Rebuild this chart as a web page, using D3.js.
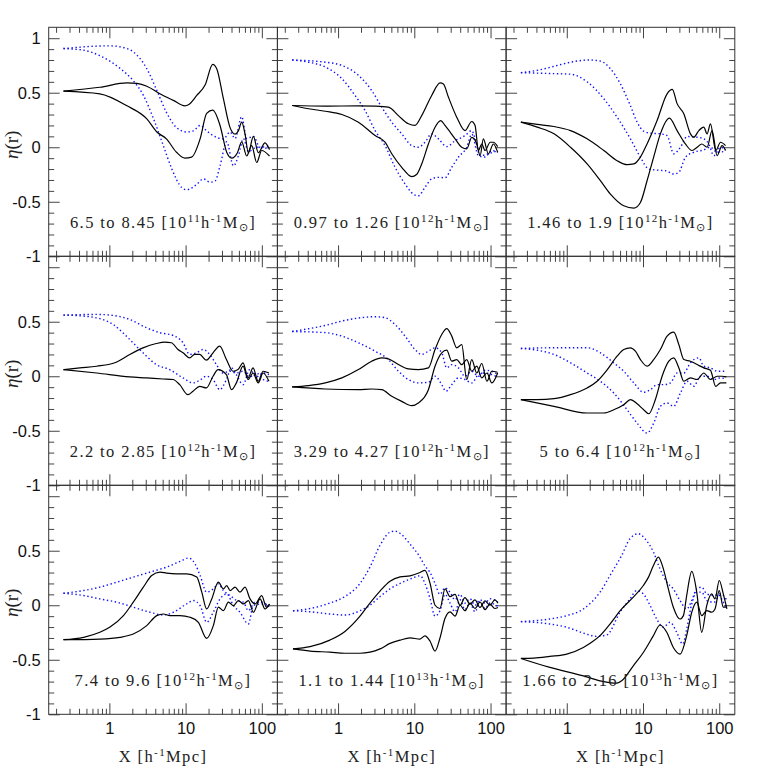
<!DOCTYPE html>
<html>
<head>
<meta charset="utf-8">
<script src="https://cdn.jsdelivr.net/npm/d3@7"></script>
<style>
  body { margin: 0; background: #fff; }
  .serif { font-family: "Liberation Serif", serif; fill: #222; }
  .sans { font-family: "Liberation Sans", Arial, sans-serif; }
</style>
</head>
<body>
<div id="chart"></div>
<script>
// mass bins of the nine panels
const massLow = ["6.5", "0.97", "1.46", "2.2", "3.29", "5", "7.4", "1.1", "1.66"];
const massHigh = ["8.45", "1.26", "1.9", "2.85", "4.27", "6.4", "9.6", "1.44", "2.16"];
const massExp = ["11", "12", "12", "12", "12", "12", "12", "13", "13"];

const xTickLabels = [1, 10, 100];
const yTickLabelsTop = [-1, -0.5, 0, 0.5, 1];
const yTickLabels = [-1, -0.5, 0, 0.5];

// eta(r) curves as [r, eta] pairs, one list per panel
const solidA = [
  [[0.25,0.515],[0.75,0.55],[1.7,0.59],[2.3,0.585],[3.1,0.56],[4.6,0.49],[6.9,0.43],[9.8,0.38],[10.9,0.39],[14,0.475],[18,0.57],[22.7,0.76],[25.6,0.72],[31.3,0.445],[38.3,0.18],[44.5,0.12],[49.2,0.15],[54.5,0.23],[60.2,0.12],[66.6,-0.05],[77.4,0.1],[90,-0.05],[110,0.04],[126,-0.02]],
  [[0.25,0.383],[0.68,0.377],[1.85,0.38],[3.06,0.377],[4.57,0.368],[6.18,0.29],[8.37,0.215],[10.2,0.2],[12.5,0.29],[16.9,0.475],[21.8,0.59],[24.1,0.58],[28,0.46],[36,0.276],[46.3,0.153],[56.7,0.236],[62.7,0.2],[69.3,-0.03],[76.7,0.03],[84.8,-0.03],[99,0.046],[109,0.046],[124,0.006]],
  [[0.25,0.23],[0.41,0.21],[0.68,0.19],[1.12,0.153],[1.85,0.077],[3.06,-0.03],[4.57,-0.123],[6.18,-0.16],[7.57,-0.153],[9.25,-0.09],[11.3,0.03],[15.3,0.245],[20.7,0.49],[24.2,0.53],[28,0.4],[34.3,0.307],[41.9,0.123],[46.3,0.092],[54,0.153],[62.7,0.184],[69.3,0.123],[76.7,0.215],[90,-0.03],[104,0.046],[121,0.015]],
  [[0.25,0.061],[0.41,0.077],[0.68,0.092],[1.23,0.129],[1.85,0.2],[2.76,0.26],[4.13,0.3],[5.3,0.313],[6.5,0.307],[7.95,0.245],[9.25,0.215],[11.3,0.169],[13.1,0.2],[15.3,0.2],[18.7,0.147],[22.9,0.215],[28,0.276],[34.3,0.153],[41.9,0.046],[48.7,0.061],[56.7,0.123],[66,-0.015],[76.7,0.077],[89.7,-0.046],[104,0.046],[124,0.03]],
  [[0.25,-0.098],[0.41,-0.086],[0.68,-0.061],[1.12,-0.015],[1.85,0.061],[2.76,0.138],[3.74,0.169],[4.57,0.16],[6.18,0.107],[8.37,0.067],[11.3,0.061],[15.3,0.077],[18.7,0.245],[22.9,0.383],[26.6,0.436],[31,0.368],[36,0.261],[41.9,0.29],[48.7,-0.03],[56.7,0.153],[66,0.03],[76.7,0.117],[89.7,-0.046],[104,0.046],[124,0.037]],
  [[0.25,-0.215],[0.41,-0.215],[0.68,-0.206],[1.12,-0.169],[1.85,-0.107],[2.5,-0.046],[3.4,0.061],[4.57,0.184],[5.59,0.245],[6.84,0.261],[7.95,0.23],[9.25,0.153],[11.3,0.092],[13.8,0.153],[16.9,0.245],[20.7,0.368],[25.3,0.405],[29.5,0.291],[34.3,0.153],[41.9,0.138],[51.3,0.107],[62.7,0.077],[76.7,0.055],[89.7,-0.092],[104,-0.061],[124,-0.061]],
  [[0.25,-0.316],[0.46,-0.294],[0.75,-0.248],[1.02,-0.2],[1.53,-0.095],[2.06,0.028],[2.79,0.166],[3.59,0.273],[4.62,0.304],[5.65,0.294],[7.64,0.288],[10.3,0.288],[14,0.258],[16.3,0.12],[18.9,-0.034],[22,0.058],[26.9,0.212],[31.3,0.15],[34.6,0.18],[38.3,0.135],[44.5,0.166],[51.7,0.12],[60.2,0.166],[70,0.058],[81.4,0.012],[99.6,0.089],[115,-0.018],[126,0.012]],
  [[0.256,-0.4],[0.43,-0.38],[0.78,-0.32],[1.23,-0.24],[1.94,-0.1],[2.62,0.02],[3.55,0.13],[4.8,0.22],[6.5,0.26],[8.8,0.27],[11.9,0.3],[13.8,0.32],[16.1,0.2],[18.7,0.0],[21.7,-0.03],[25.3,0.15],[29.4,0.08],[34.2,0.1],[39.8,0.0],[46.2,0.07],[53.8,0.01],[62.5,0.05],[72.7,-0.02],[84.6,0.04],[98.4,0.0],[114,0.05],[125,0.02]],
  [[0.25,-0.488],[0.37,-0.485],[0.6,-0.469],[1.0,-0.448],[1.65,-0.387],[2.12,-0.34],[2.73,-0.279],[3.69,-0.172],[5.25,-0.034],[7.46,0.074],[10.1,0.181],[11.8,0.258],[13.7,0.365],[15.9,0.442],[18.5,0.334],[21.5,0.15],[25,-0.018],[30.6,-0.126],[33.9,-0.095],[37.4,0.089],[43.6,0.31],[50.7,0.12],[58.9,-0.248],[68.5,-0.003],[79.7,0.104],[88.1,0.058],[100,0.227],[113,0.104],[126,-0.034]]
];

const solidB = [
  [[0.25,0.515],[0.75,0.49],[1.7,0.38],[3.1,0.26],[4.2,0.14],[5.6,0.077],[7.6,-0.046],[9.8,-0.1],[12,-0.09],[15.5,0.077],[18.9,0.31],[22.7,0.34],[28.3,0.2],[34.6,-0.046],[40.3,-0.1],[47.8,-0.05],[54.5,0.05],[63.3,-0.08],[73.6,0.015],[85.6,-0.14],[99.6,-0.03],[126,-0.08]],
  [[0.25,0.383],[0.41,0.353],[0.68,0.33],[1.12,0.3],[1.85,0.23],[3.06,0.107],[4.13,0.046],[5.06,-0.06],[6.84,-0.184],[9.25,-0.27],[10.7,-0.25],[12.5,-0.153],[15.3,0.03],[18.7,0.184],[22.2,0.245],[25.3,0.2],[34.3,0.077],[41.9,0.0],[48.7,-0.015],[56.7,0.09],[66,0.03],[73,-0.077],[80.5,0.077],[93.7,-0.06],[109,0.03],[124,-0.046]],
  [[0.25,0.23],[0.41,0.184],[0.68,0.123],[1.12,0.0],[1.85,-0.153],[2.76,-0.307],[3.74,-0.43],[5.59,-0.537],[7.57,-0.558],[9.25,-0.506],[11.3,-0.307],[13.8,-0.09],[16.9,0.123],[22.2,0.267],[28,0.153],[36,0.03],[44,-0.03],[51.3,0.0],[59,0.03],[69.3,0.0],[80.5,0.153],[93.7,-0.077],[109,0.015],[121,-0.03]],
  [[0.25,0.061],[0.68,0.03],[1.85,-0.006],[3.06,-0.015],[5.06,-0.025],[6.84,-0.03],[8.37,-0.077],[10.7,-0.169],[12.5,-0.138],[15.3,-0.092],[18.7,-0.107],[22.9,0.0],[26.6,0.061],[34.3,0.015],[40,-0.123],[46.3,-0.061],[56.7,0.092],[66,-0.03],[76.7,0.03],[89.7,-0.061],[104,0.03],[124,-0.046]],
  [[0.25,-0.098],[0.68,-0.117],[1.85,-0.123],[2.76,-0.117],[3.74,-0.123],[5.06,-0.184],[6.84,-0.23],[9.25,-0.27],[11.3,-0.245],[15.3,-0.123],[18.7,0.092],[22.9,0.215],[26.6,0.239],[31,0.138],[36,0.153],[41.9,0.107],[48.7,0.153],[56.7,0.046],[66,0.092],[76.7,-0.015],[89.7,0.03],[104,-0.061],[124,0.03]],
  [[0.25,-0.215],[0.68,-0.276],[1.85,-0.337],[3.06,-0.337],[4.13,-0.307],[5.59,-0.261],[6.84,-0.215],[8.37,-0.252],[10.2,-0.307],[11.9,-0.344],[14.5,-0.215],[17.8,0.0],[21.8,0.138],[25.3,0.169],[29.5,0.077],[34.3,-0.046],[41.9,-0.015],[51.3,-0.03],[62.7,0.03],[76.7,-0.03],[93.7,0.0],[109,0.0],[124,-0.006]],
  [[0.25,-0.316],[0.75,-0.31],[1.38,-0.294],[2.06,-0.264],[3.09,-0.187],[4.18,-0.095],[5.11,-0.08],[6.22,-0.095],[8.44,-0.095],[11.4,-0.11],[14.7,-0.156],[18.9,-0.304],[23.1,-0.187],[26.9,-0.018],[31.3,-0.049],[36.4,0.028],[42.4,-0.003],[49.2,0.043],[57.3,0.012],[66.6,0.043],[77.4,-0.064],[94.7,0.058],[110,-0.034],[126,0.012]],
  [[0.256,-0.4],[0.43,-0.42],[0.78,-0.43],[1.23,-0.44],[1.94,-0.44],[2.62,-0.43],[3.55,-0.4],[4.8,-0.35],[6.5,-0.32],[8.8,-0.3],[11.9,-0.31],[13.8,-0.28],[16.1,-0.33],[18.7,-0.42],[21.7,-0.3],[25.3,-0.12],[29.4,-0.06],[34.2,-0.1],[39.8,0.0],[46.2,-0.05],[53.8,0.02],[62.5,-0.03],[72.7,0.03],[84.6,-0.04],[98.4,0.01],[114,-0.03],[125,-0.02]],
  [[0.25,-0.488],[0.6,-0.57],[1.65,-0.647],[2.73,-0.693],[4.51,-0.715],[5.25,-0.693],[7.46,-0.555],[10.1,-0.433],[13.7,-0.279],[16.7,-0.181],[20.5,-0.248],[25,-0.387],[30.6,-0.448],[37.4,-0.279],[43.6,-0.064],[50.7,0.028],[58.9,-0.095],[68.5,-0.049],[79.7,-0.064],[88.1,-0.034],[100,0.135],[113,-0.018],[126,-0.018]]
];

const dottedA = [
  [[0.25,0.905],[1.0,0.93],[1.4,0.92],[2.06,0.875],[3.1,0.72],[4.2,0.52],[5.6,0.32],[7.6,0.18],[10.3,0.14],[12.6,0.15],[15.5,0.2],[18.9,0.15],[25.6,0.09],[31.3,0.077],[38.3,0.14],[44.5,0.08],[54.5,0.28],[63.3,0.08],[77.4,0.1],[94.7,0.0],[126,0.015]],
  [[0.25,0.8],[0.68,0.78],[1.12,0.75],[1.85,0.66],[2.76,0.52],[3.74,0.368],[5.06,0.23],[6.84,0.123],[9.25,0.015],[11.3,0.0],[13.8,0.046],[16.9,0.123],[20.7,0.077],[26.6,0.006],[34.3,0.06],[46.3,0.107],[56.7,0.153],[62.7,0.08],[73,-0.077],[93.7,-0.06],[124,-0.03]],
  [[0.25,0.684],[0.41,0.705],[0.68,0.742],[1.12,0.78],[1.95,0.8],[2.76,0.79],[3.74,0.72],[5.06,0.58],[6.84,0.38],[8.37,0.23],[10.2,0.147],[12.5,0.129],[16.9,0.123],[20.7,0.107],[25.3,-0.06],[31,0.0],[37.9,0.098],[51.3,0.092],[62.7,0.077],[73,0.03],[84.8,-0.077],[104,0.0],[121,-0.025]],
  [[0.25,0.561],[0.68,0.567],[1.12,0.558],[1.85,0.521],[3.06,0.445],[4.57,0.4],[6.84,0.374],[9.25,0.307],[11.3,0.2],[13.8,0.215],[16.9,0.245],[20.7,0.2],[25.3,0.107],[31,0.03],[37.9,0.046],[46.3,0.03],[56.7,0.046],[69.3,-0.006],[84.8,0.03],[104,-0.03],[124,-0.046]],
  [[0.25,0.41],[0.41,0.436],[0.68,0.466],[1.12,0.506],[1.85,0.534],[3.06,0.546],[4.13,0.537],[5.59,0.475],[7.57,0.368],[10.2,0.245],[12.5,0.2],[15.3,0.23],[18.7,0.261],[22.9,0.215],[26.6,0.077],[31,0.107],[37.9,0.077],[46.3,0.0],[56.7,0.046],[69.3,0.0],[84.8,0.055],[104,0.046],[124,0.015]],
  [[0.25,0.255],[0.68,0.261],[1.85,0.261],[2.76,0.215],[4.13,0.123],[5.59,0.046],[7.57,-0.061],[10.2,-0.147],[12.5,-0.123],[15.3,-0.077],[18.7,-0.077],[22.9,-0.061],[28,0.03],[34.3,0.03],[41.9,0.123],[54,0.169],[62.7,0.092],[76.7,0.077],[93.7,0.046],[124,0.046]],
  [[0.25,0.11],[0.46,0.135],[0.75,0.166],[1.25,0.212],[2.06,0.258],[3.41,0.304],[5.65,0.35],[8.44,0.402],[10.9,0.433],[13.3,0.38],[15.5,0.273],[18.9,0.12],[23.1,0.15],[26.9,0.196],[31.3,0.135],[38.3,0.089],[46.9,0.043],[57.3,0.028],[66.6,-0.049],[81.4,0.028],[99.6,0.028],[126,-0.018]],
  [[0.256,-0.05],[0.43,-0.03],[0.78,0.02],[1.23,0.08],[1.94,0.2],[2.62,0.35],[3.55,0.55],[4.8,0.67],[5.57,0.68],[6.5,0.66],[8.8,0.56],[11.9,0.44],[13.8,0.36],[16.1,0.3],[18.7,0.2],[21.7,0.1],[25.3,0.16],[29.4,0.12],[34.2,0.05],[39.8,0.1],[46.2,0.02],[53.8,0.06],[62.5,0.0],[72.7,0.05],[84.6,0.02],[98.4,0.06],[125,0.03]],
  [[0.25,-0.15],[0.6,-0.126],[1.0,-0.095],[1.65,-0.034],[2.73,0.12],[3.69,0.273],[5.25,0.457],[6.75,0.61],[8.69,0.656],[10.6,0.61],[13.7,0.488],[16.7,0.334],[20.5,0.212],[25,0.15],[30.6,0.043],[37.4,-0.034],[43.6,0.043],[50.7,0.15],[58.9,0.166],[68.5,0.104],[86,0.089],[100,0.104],[113,0.089],[126,0.043]]
];

const dottedB = [
  [[0.25,0.905],[0.46,0.89],[0.75,0.84],[1.4,0.72],[2.06,0.61],[2.8,0.475],[3.8,0.26],[5.1,0.015],[6.6,-0.2],[8.9,-0.37],[10.3,-0.39],[14,-0.34],[17.1,-0.29],[20.9,-0.32],[24.3,-0.31],[28.3,-0.17],[34.6,0.05],[42.4,-0.17],[49.2,-0.08],[57.3,0.08],[66.6,-0.04],[85.6,0.0],[126,-0.015]],
  [[0.25,0.8],[0.41,0.78],[0.68,0.736],[1.12,0.63],[1.67,0.475],[2.26,0.337],[3.06,0.153],[4.13,0.015],[5.59,-0.184],[7.57,-0.337],[9.7,-0.43],[11.3,-0.445],[13.8,-0.368],[16.9,-0.29],[20.7,-0.276],[25.3,-0.28],[31,-0.184],[37.9,-0.09],[48.7,0.0],[56.7,0.12],[69.3,-0.077],[84.8,-0.09],[104,-0.03],[124,-0.046]],
  [[0.25,0.684],[0.41,0.68],[0.68,0.675],[1.12,0.67],[1.85,0.6],[3.06,0.445],[4.57,0.276],[6.84,0.077],[9.25,-0.092],[11.9,-0.2],[15.3,-0.21],[19.8,-0.215],[25.3,-0.245],[29.5,-0.23],[36,-0.092],[46.3,-0.046],[62.7,-0.025],[76.7,0.0],[93.7,-0.046],[121,-0.037]],
  [[0.25,0.561],[0.55,0.546],[1.12,0.475],[1.85,0.337],[2.76,0.215],[4.13,0.107],[6.18,0.061],[9.25,-0.015],[12.5,-0.061],[15.3,-0.037],[18.7,0.0],[22.9,-0.03],[28,-0.123],[34.3,-0.03],[40,0.077],[46.3,0.015],[56.7,-0.077],[69.3,0.061],[84.8,-0.006],[104,0.03],[124,0.015]],
  [[0.25,0.41],[0.68,0.4],[1.12,0.368],[1.85,0.307],[3.06,0.23],[4.57,0.153],[6.18,0.046],[8.37,-0.03],[11.3,-0.061],[15.3,-0.055],[18.7,0.0],[22.9,-0.077],[26,-0.138],[31,-0.077],[37.9,-0.015],[46.3,-0.03],[56.7,-0.061],[69.3,0.015],[84.8,0.03],[104,0.015],[124,-0.006]],
  [[0.25,0.255],[0.41,0.239],[0.68,0.2],[1.12,0.123],[1.85,0.03],[2.76,-0.046],[4.13,-0.153],[6.18,-0.307],[8.37,-0.43],[11.3,-0.521],[13.8,-0.43],[16.9,-0.276],[20.7,-0.245],[25.3,-0.276],[31,-0.153],[37.9,-0.046],[46.3,-0.092],[56.7,0.0],[69.3,0.0],[84.8,-0.03],[104,-0.015],[124,-0.025]],
  [[0.25,0.11],[0.46,0.089],[0.75,0.058],[1.25,0.028],[2.06,-0.018],[3.41,-0.064],[5.11,-0.089],[6.91,-0.064],[10.3,0.012],[12.6,0.043],[15.5,-0.003],[18.9,-0.156],[23.1,-0.064],[28.3,0.058],[34.6,0.104],[42.4,-0.003],[51.7,-0.064],[66.6,-0.172],[77.4,-0.003],[99.6,0.012],[126,-0.003]],
  [[0.256,-0.05],[0.43,-0.06],[0.78,-0.08],[1.23,-0.09],[1.94,-0.05],[2.62,0.0],[3.55,0.08],[4.8,0.15],[6.5,0.2],[8.8,0.24],[11.9,0.27],[13.8,0.2],[16.1,0.06],[18.7,-0.1],[21.7,-0.05],[25.3,0.1],[29.4,0.02],[34.2,-0.06],[39.8,0.05],[46.2,-0.04],[53.8,0.02],[62.5,-0.06],[72.7,0.03],[84.6,-0.03],[98.4,0.02],[125,-0.01]],
  [[0.25,-0.15],[0.6,-0.172],[1.0,-0.202],[1.65,-0.255],[2.47,-0.285],[3.34,-0.273],[4.99,-0.064],[6.75,0.058],[8.26,0.135],[10.1,0.104],[12.4,-0.003],[15.1,-0.126],[18.5,-0.202],[22.6,-0.156],[27.7,-0.248],[33.2,-0.356],[37.4,-0.218],[43.6,0.012],[50.7,0.12],[58.9,0.12],[68.5,0.043],[86,0.028],[100,0.089],[113,0.028],[126,-0.018]]
];

const margin = { top: 27.3, left: 48.7 };
const pw = 228.7, ph = 229;
const majorLen = 11, minorLen = 5.5;

const svg = d3
  .select("#chart")
  .append("svg")
  .attr("width", 766)
  .attr("height", 766);

const x = d3.scaleLog().domain([0.16, 160]).range([0, pw]);
const y = d3.scaleLinear().domain([-1, 1.1]).range([ph, 0]);

const isMajor = d => Math.abs(Math.log10(d) - Math.round(Math.log10(d))) < 1e-6;
const xMajor = x.ticks().filter(isMajor);
const xMinor = x.ticks().filter(d => !isMajor(d));
const yAll = d3.range(-10, 11).map(d => d / 10);
const yMajor = yAll.filter(d => Math.abs(d * 2 - Math.round(d * 2)) < 1e-6);
const yMinor = yAll.filter(d => !yMajor.includes(d));

const line = d3
  .line()
  .x(d => x(d[0]))
  .y(d => y(d[1]))
  .curve(d3.curveMonotoneX);

function tickAxis(g, axis, values, len) {
  g.call(axis.tickValues(values).tickSize(-len).tickFormat(""))
    .attr("color", "#444")
    .call(a => a.select(".domain").remove());
}

function massLabel(text, i) {
  text.append("tspan").text(`${massLow[i]} to ${massHigh[i]} [10`);
  text.append("tspan").attr("dy", -6).attr("font-size", 11).text(massExp[i]);
  text.append("tspan").attr("dy", 6).text("h");
  text.append("tspan").attr("dy", -6).attr("font-size", 11).text("-1");
  text.append("tspan").attr("dy", 6).text("M");
  text.append("tspan").attr("dy", 3).attr("font-size", 11).text("\u2299");
  text.append("tspan").attr("dy", -3).text("]");
}

d3.range(9).forEach(i => {
  const col = i % 3, row = Math.floor(i / 3);
  const g = svg
    .append("g")
    .attr("transform", `translate(${margin.left + col * pw}, ${margin.top + row * ph})`);

  // ticks on all four sides, pointing inwards
  [
    [() => d3.axisTop(x), 0, 0, xMajor, xMinor],
    [() => d3.axisBottom(x), 0, ph, xMajor, xMinor],
    [() => d3.axisLeft(y), 0, 0, yMajor, yMinor],
    [() => d3.axisRight(y), pw, 0, yMajor, yMinor]
  ].forEach(([makeAxis, tx, ty, major, minor]) => {
    tickAxis(g.append("g").attr("transform", `translate(${tx},${ty})`), makeAxis(), major, majorLen);
    tickAxis(g.append("g").attr("transform", `translate(${tx},${ty})`), makeAxis(), minor, minorLen);
  });

  g.append("rect")
    .attr("width", pw)
    .attr("height", ph)
    .attr("fill", "none")
    .attr("stroke", "#333")
    .attr("stroke-width", 1);

  // curves
  [dottedA[i], dottedB[i]].forEach(d => {
    g.append("path")
      .attr("d", line(d))
      .attr("fill", "none")
      .attr("stroke", "#1010ff")
      .attr("stroke-width", 1.4)
      .attr("stroke-dasharray", "1.4 2.6");
  });
  [solidA[i], solidB[i]].forEach(d => {
    g.append("path")
      .attr("d", line(d))
      .attr("fill", "none")
      .attr("stroke", "#000")
      .attr("stroke-width", 1.2);
  });

  const label = g
    .append("text")
    .attr("class", "serif")
    .attr("x", pw / 2)
    .attr("y", ph - 28)
    .attr("text-anchor", "middle")
    .attr("font-size", 16.5)
    .attr("letter-spacing", 1.4);
  massLabel(label, i);

  // y labels on the left column
  if (col === 0) {
    const ya = g
      .append("g")
      .call(
        d3.axisLeft(y)
          .tickValues(row === 0 ? yTickLabelsTop : yTickLabels)
          .tickSize(0)
          .tickPadding(8)
          .tickFormat(d => String(d))
      );
    ya.select(".domain").remove();
    ya.attr("font-family", null).attr("font-size", null);
    ya.selectAll("text")
      .attr("class", "sans")
      .attr("font-size", 16.5)
      .attr("fill", "#111");

    const et = g
      .append("text")
      .attr("class", "serif")
      .attr("transform", `translate(${18 - margin.left}, ${ph / 2 + 3}) rotate(-90)`)
      .attr("text-anchor", "middle")
      .attr("font-size", 19);
    et.append("tspan").attr("font-style", "italic").text("\u03b7");
    et.append("tspan").text("(r)");
  }

  // x labels on the bottom row
  if (row === 2) {
    const xa = g
      .append("g")
      .attr("transform", `translate(0,${ph})`)
      .call(
        d3.axisBottom(x)
          .tickValues(xTickLabels)
          .tickSize(0)
          .tickPadding(8)
          .tickFormat(d3.format("d"))
      );
    xa.select(".domain").remove();
    xa.attr("font-family", null).attr("font-size", null);
    xa.selectAll("text")
      .attr("class", "sans")
      .attr("font-size", 16.5)
      .attr("fill", "#111");

    const xt = g
      .append("text")
      .attr("class", "serif")
      .attr("x", pw / 2)
      .attr("y", ph + 48)
      .attr("text-anchor", "middle")
      .attr("font-size", 16.5)
      .attr("letter-spacing", 1.4);
    xt.append("tspan").text("X [h");
    xt.append("tspan").attr("dy", -6).attr("font-size", 11).text("-1");
    xt.append("tspan").attr("dy", 6).text("Mpc]");
  }
});
</script>
</body>
</html>
